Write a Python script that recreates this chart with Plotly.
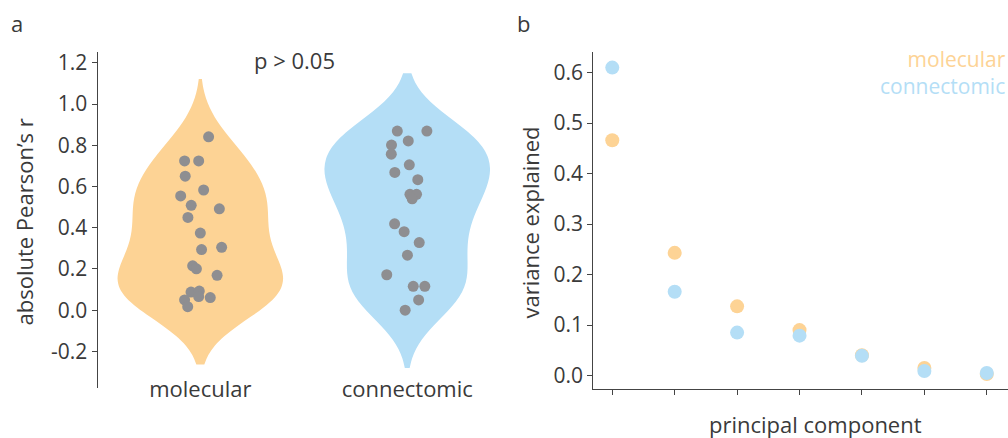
import plotly.graph_objects as go

# ---------------- data ----------------
categories = ["molecular", "connectomic"]

molecular_r = [0.841, 0.724, 0.724, 0.650, 0.583, 0.554, 0.509, 0.492, 0.450, 0.374, 0.294,
               0.305, 0.215, 0.201, 0.169, 0.088, 0.093, 0.066, 0.061, 0.050, 0.017]
molecular_jitter = [0.040, -0.076, -0.008, -0.073, 0.016, -0.095, -0.044, 0.092, -0.060, 0.0, 0.006,
                    0.103, -0.037, -0.019, 0.081, -0.045, -0.005, -0.008, 0.048, -0.076, -0.061]

connectomic_r = [0.869, 0.869, 0.821, 0.801, 0.757, 0.705, 0.668, 0.633, 0.562, 0.562, 0.540,
                 0.419, 0.381, 0.328, 0.267, 0.172, 0.116, 0.116, 0.050, 0.000]
connectomic_jitter = [-0.048, 0.095, 0.005, -0.076, -0.077, 0.010, -0.060, 0.051, 0.013, 0.045, 0.024,
                      -0.061, -0.015, 0.058, 0.001, -0.099, 0.029, 0.085, 0.055, -0.010]

pc = [1, 2, 3, 4, 5, 6, 7]
molecular_var = [0.466, 0.243, 0.137, 0.090, 0.040, 0.015, 0.003]
connectomic_var = [0.610, 0.166, 0.085, 0.079, 0.039, 0.009, 0.005]

y_ticks_a = [-0.2, 0.0, 0.2, 0.4, 0.6, 0.8, 1.0, 1.2]
y_ticks_b = [0.0, 0.1, 0.2, 0.3, 0.4, 0.5, 0.6]

# ---------------- style ----------------
ORANGE = "#FDD395"
BLUE = "#B4DEF6"
GREY = "#8E8E91"
TXT = "#3a3a3a"
FONT = "Open Sans"
FS_TICK = 21
FS = 22

W, H = 1008, 438
def px_x(p):
    return p / W
def px_y(p):
    return 1 - p / H

fig = go.Figure()

for i, (name, vals, col) in enumerate([("molecular", molecular_r, ORANGE),
                                         ("connectomic", connectomic_r, BLUE)]):
    fig.add_trace(go.Violin(
        x0=i, y=vals, width=0.8, bandwidth=0.14, spanmode="soft",
        points=False, fillcolor=col, line=dict(color=col, width=0),
        opacity=1, showlegend=False, name=name, xaxis="x", yaxis="y",
        hoverinfo="skip",
    ))

for i, (vals, jit) in enumerate([(molecular_r, molecular_jitter),
                                  (connectomic_r, connectomic_jitter)]):
    fig.add_trace(go.Scatter(
        x=[i + j for j in jit], y=vals, mode="markers",
        marker=dict(color=GREY, size=11, line=dict(width=0)),
        showlegend=False, xaxis="x", yaxis="y",
    ))

fig.add_trace(go.Scatter(x=pc, y=molecular_var, mode="markers", name="molecular",
                         marker=dict(color=ORANGE, size=14, line=dict(width=0)),
                         showlegend=False, xaxis="x2", yaxis="y2"))
fig.add_trace(go.Scatter(x=pc, y=connectomic_var, mode="markers", name="connectomic",
                         marker=dict(color=BLUE, size=14, line=dict(width=0)),
                         showlegend=False, xaxis="x2", yaxis="y2"))

axis_common = dict(showgrid=False, zeroline=False, linecolor="#444", linewidth=1.3,
                   tickcolor="#444", tickwidth=1.2, ticklen=5,
                   tickfont=dict(family=FONT, size=FS_TICK, color=TXT))

fig.update_layout(
    width=W, height=H, margin=dict(l=0, r=0, t=0, b=0),
    paper_bgcolor="white", plot_bgcolor="white",
    font=dict(family=FONT, size=FS, color=TXT),
    xaxis=dict(domain=[px_x(97.7), px_x(490)], range=[-0.496, 1.4],
               tickvals=[0, 1], ticktext=categories, showline=False, ticks="",
               anchor="free", position=px_y(374),
               showgrid=False, zeroline=False,
               tickfont=dict(family=FONT, size=FS, color=TXT)),
    yaxis=dict(domain=[px_y(388), px_y(49)], range=[-0.379, 1.254],
               tickvals=y_ticks_a, ticktext=[f"{v:.1f}" for v in y_ticks_a],
               showline=True, ticks="outside", anchor="x", **axis_common),
    xaxis2=dict(domain=[px_x(593.3), 1.0], range=[0.696, 7.34],
                tickvals=pc, showticklabels=False, showline=True, ticks="outside",
                anchor="y2", **{k: v for k, v in axis_common.items() if k != "tickfont"}),
    yaxis2=dict(domain=[px_y(388.3), px_y(49.3)], range=[-0.026, 0.641],
                tickvals=y_ticks_b, ticktext=[f"{v:.1f}" for v in y_ticks_b],
                showline=True, ticks="outside", anchor="x2", **axis_common),
)

ann = [
    dict(text="a", x=px_x(17), y=px_y(20)),
    dict(text="b", x=px_x(523), y=px_y(20)),
    dict(text="p > 0.05", x=px_x(294), y=px_y(57)),
    dict(text="absolute Pearson’s r", x=px_x(24), y=px_y(221), textangle=-90),
    dict(text="variance explained", x=px_x(530), y=px_y(221), textangle=-90),
    dict(text="principal component", x=px_x(815), y=px_y(424)),
]
for a in ann:
    fig.add_annotation(xref="paper", yref="paper", showarrow=False,
                       xanchor="center", yanchor="middle",
                       font=dict(family=FONT, size=FS, color=TXT), **a)

legend_text = (f"<span style='color:{ORANGE}'>molecular</span><br>"
               f"<span style='color:{BLUE}'>connectomic</span>")
fig.add_annotation(xref="paper", yref="paper", showarrow=False, text=legend_text,
                   x=px_x(1008), y=px_y(69.5), xanchor="right", yanchor="middle",
                   align="right", font=dict(family=FONT, size=21, color=BLUE))

fig.write_html("out.html", config={"displayModeBar": False},
               post_script="document.body.style.margin='0';document.body.style.overflow='hidden';")
